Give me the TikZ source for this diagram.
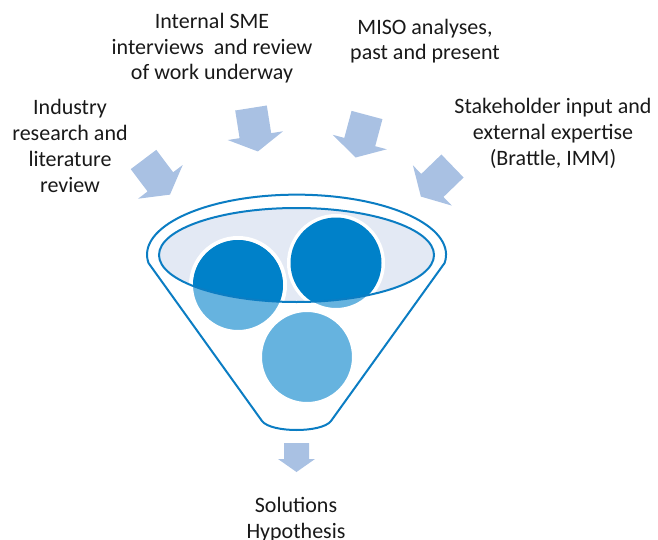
\documentclass[tikz,border=0pt]{standalone}
\usepackage{fontspec}
\setmainfont{Carlito}

\definecolor{rimblue}{HTML}{0B7DC3}
\definecolor{deepblue}{HTML}{0081C9}
\definecolor{paleblue}{HTML}{66B3DF}
\definecolor{mouthfill}{HTML}{E3E9F4}
\definecolor{feedblue}{HTML}{A9C1E3}

\begin{document}
\begin{tikzpicture}[x=0.5pt,y=-0.5pt,
  source/.style={align=center,anchor=base,inner sep=0pt,
    font=\fontsize{11}{12.9}\selectfont,text=black!90},
  ball/.style={circle,draw=white,line width=2pt,minimum size=47pt,inner sep=0pt},
  feed/.pic={\fill[feedblue] (-16,0) -- (16,0) -- (16,28) -- (28,28) -- (0,44)
    -- (-28,28) -- (-16,28) -- cycle;},
  outlet/.pic={\fill[feedblue] (-12.5,0) -- (12.5,0) -- (12.5,16) -- (18.5,16)
    -- (0,29) -- (-18.5,16) -- (-12.5,16) -- cycle;}]

\useasboundingbox (0,0) rectangle (658,540);

% funnel
\draw[rimblue,line width=1pt] (262,421) -- (148.5,263)
  arc[start angle=172,end angle=368,x radius=149.5,y radius=60]
  -- (331,421) .. controls (322,433) and (271,433) .. (262,421) -- cycle;
\fill[mouthfill] (296.5,255) ellipse[x radius=137.5,y radius=47];

% balls
\node[ball,fill=paleblue] (seedA) at (238,285) {};
\node[ball,fill=paleblue] (seedB) at (336,263) {};
\node[ball,fill=paleblue] (seedC) at (307,357) {};
\begin{scope}
  \clip (296.5,255) ellipse[x radius=137.5,y radius=47];
  \fill[deepblue] (seedA.center) circle[radius=45];
  \fill[deepblue] (seedB.center) circle[radius=45.5];
\end{scope}
\draw[rimblue,line width=1pt] (296.5,255) ellipse[x radius=137.5,y radius=47];

% inputs
\pic[rotate=37] at (143.5,159.5) {feed};
\pic[rotate=9] at (251,108) {feed};
\pic[rotate=-15] at (367,115) {feed};
\pic[rotate=-46] at (452.5,166) {feed};
\pic at (296.5,443) {outlet};

\node[source] (industry) at (70,192) {Industry\\research and\\literature\\review};
\node[source] (internal) at (212,80) {Internal SME\\interviews\ \ and review\\of work underway};
\node[source] (miso) at (425,60) {MISO analyses,\\past and present};
\node[source] (stake) at (553,165) {Stakeholder input and\\external expertise\\(Brattle, IMM)};
\node[source] (result) at (296,538) {Solutions\\Hypothesis};

\end{tikzpicture}
\end{document}
